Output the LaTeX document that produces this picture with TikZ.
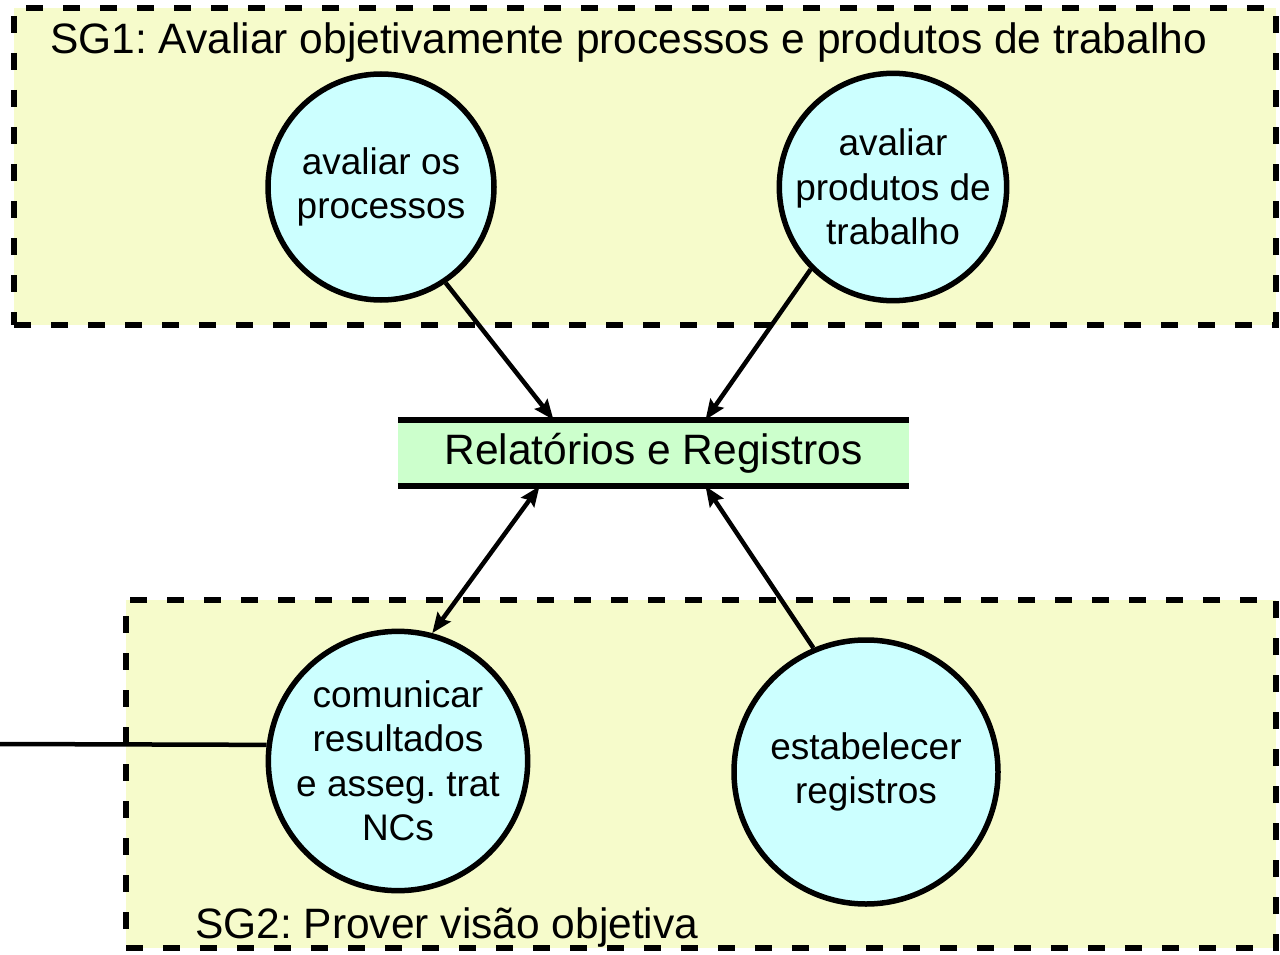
\documentclass[tikz,border=0pt]{standalone}
\usepackage{fontspec}
\setmainfont{Liberation Sans}
\usetikzlibrary{arrows.meta}
\frenchspacing
\definecolor{goalfill}{RGB}{246,251,203}
\definecolor{circfill}{RGB}{204,255,255}
\definecolor{storefill}{RGB}{204,255,204}
\tikzset{
  goalbox/.style={draw=black, fill=goalfill, line width=6pt, dash pattern=on 17pt off 20pt, inner sep=0pt},
  goaltitle/.style={font=\fontsize{42.5}{48}\selectfont, inner sep=0pt, anchor=base west},
  proc/.style={circle, draw=black, fill=circfill, line width=5.5pt, inner sep=0pt, align=center, font=\fontsize{37}{44.5}\selectfont},
  store/.style={fill=storefill, inner sep=0pt, minimum width=511pt, minimum height=66pt, font=\fontsize{42.5}{48}\selectfont},
  storeline/.style={line width=5.5pt},
  arr/.style={line width=4.5pt, -{Stealth[length=20pt,width=16pt,inset=3pt]}},
  darr/.style={line width=4.5pt, {Stealth[length=20pt,width=16pt,inset=3pt]}-{Stealth[length=20pt,width=16pt,inset=3pt]}},
  plain/.style={line width=4.5pt}
}
\begin{document}
\begin{tikzpicture}[x=1pt,y=-1pt]
\useasboundingbox (0,0) rectangle (1280,955);
% goal boxes
\node[goalbox, minimum width=1262pt, minimum height=317pt] (sg1) at (645,166.5) {};
\node[goalbox, minimum width=1150pt, minimum height=348pt] (sg2) at (701,774) {};
\node[goaltitle] (t1) at (50,54) {SG1: Avaliar objetivamente processos e produtos de trabalho};
\node[goaltitle] (t2) at (195,938) {SG2: Prover visão objetiva};
% data store
\node[store] (rr) at (653.5,453) {Relatórios e Registros};
\draw[storeline] (rr.north west) -- (rr.north east);
\draw[storeline] (rr.south west) -- (rr.south east);
% processes
\node[proc, minimum size=226pt] (p1) at (381,187) {avaliar os\\processos};
\node[proc, minimum size=226pt] (p2) at (893,187) {avaliar\\produtos de\\trabalho};
\node[proc, minimum size=258pt] (p3) at (398,761) {comunicar\\resultados\\e asseg. trat\\NCs};
\node[proc, minimum size=264pt] (p4) at (866,772) {estabelecer\\registros};
% connectors
\draw[arr] (p1.304) -- ([xshift=-100pt]rr.north);
\draw[arr] (p2.225) -- ([xshift=52pt]rr.north);
\draw[darr] ([xshift=-114pt]rr.south) -- (p3.75);
\draw[arr] (p4.113) -- ([xshift=52pt]rr.south);
\coordinate (ext) at (0,744);
\draw[plain] (ext) -- (p3.173);
\end{tikzpicture}
\end{document}
